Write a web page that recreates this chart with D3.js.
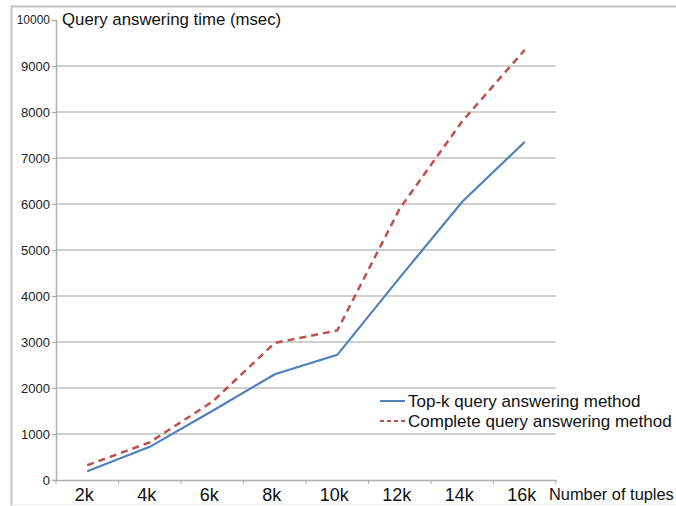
<!DOCTYPE html>
<html>
<head>
<meta charset="utf-8">
<script src="https://cdn.jsdelivr.net/npm/d3@7"></script>
<style>
  body { margin: 0; background: #fff; }
  svg { font-family: "Liberation Sans", Arial, sans-serif; }
</style>
</head>
<body>
<svg id="chart" width="676" height="506"></svg>
<script>
// data
let categories = ["2k", "4k", "6k", "8k", "10k", "12k", "14k", "16k"];
let topK = [190, 720, 1500, 2300, 2720, 4400, 6050, 7350];
let complete = [320, 820, 1700, 2980, 3250, 5900, 7800, 9350];
let yTicks = [0, 1000, 2000, 3000, 4000, 5000, 6000, 7000, 8000, 9000, 10000];
let seriesNames = ["Top-k query answering method", "Complete query answering method"];

let svg = d3.select("#chart");

// outer frame
svg.append("path")
  .attr("d", "M11.5,506 L11.5,6.5 L676,6.5")
  .attr("fill", "none")
  .attr("stroke", "#c4c4c4")
  .attr("stroke-width", 2);
svg.append("line")
  .attr("x1", 11).attr("x2", 676).attr("y1", 504.5).attr("y2", 504.5)
  .attr("stroke", "#ececec");

let plotLeft = 56, plotRight = 556, plotTop = 20, plotBottom = 480;

let x = d3.scaleBand()
  .domain(categories)
  .range([plotLeft, plotRight]);
let y = d3.scaleLinear()
  .domain([0, 10000])
  .range([plotBottom, plotTop]);

// gridlines
svg.append("g")
  .selectAll("line")
  .data(yTicks.filter(d => d > 0 && d < 10000))
  .enter()
  .append("line")
  .attr("x1", plotLeft).attr("x2", plotRight)
  .attr("y1", d => y(d)).attr("y2", d => y(d))
  .attr("stroke", "#c0c0c0")
  .attr("stroke-width", 1.5);

// y axis
let yAxis = svg.append("g")
  .attr("transform", `translate(${plotLeft},0)`)
  .call(d3.axisLeft(y).tickValues(yTicks).tickSize(4).tickFormat(d3.format("d")));
yAxis.select(".domain").attr("stroke", "#b0b0b0").attr("stroke-width", 1.5);
yAxis.selectAll(".tick line").attr("stroke", "#b0b0b0");
yAxis.selectAll(".tick text")
  .attr("font-size", 13)
  .attr("fill", "#222")
  .attr("x", -6);
yAxis.selectAll(".tick text").filter(d => d === 10000).attr("font-size", 12);

// x axis
let xAxis = svg.append("g")
  .attr("transform", `translate(0,${plotBottom})`)
  .call(d3.axisBottom(x).tickSize(0));
xAxis.select(".domain").attr("stroke", "#b0b0b0").attr("stroke-width", 1.5);
xAxis.selectAll(".tick text")
  .attr("font-size", 18)
  .attr("fill", "#111")
  .attr("dy", "1em")
  .attr("dx", -3);
// band separators
svg.append("g")
  .selectAll("line")
  .data(categories.concat(["end"]))
  .enter()
  .append("line")
  .attr("x1", (d, i) => plotLeft + i * x.step())
  .attr("x2", (d, i) => plotLeft + i * x.step())
  .attr("y1", plotBottom).attr("y2", plotBottom + 4)
  .attr("stroke", "#b0b0b0");

// titles
svg.append("text")
  .attr("x", 62).attr("y", 25)
  .attr("font-size", 16.8)
  .attr("fill", "#111")
  .text("Query answering time (msec)");
svg.append("text")
  .attr("x", 549).attr("y", 500)
  .attr("font-size", 16.4)
  .attr("fill", "#111")
  .text("Number of tuples");

// lines
let line = d3.line()
  .x((d, i) => x(categories[i]) + x.bandwidth() / 2)
  .y(d => y(d));

svg.append("path")
  .attr("d", line(topK))
  .attr("fill", "none")
  .attr("stroke", "#4f81bd")
  .attr("stroke-width", 2.2);

svg.append("path")
  .attr("d", line(complete))
  .attr("fill", "none")
  .attr("stroke", "#c0504d")
  .attr("stroke-width", 2.5)
  .attr("stroke-dasharray", "7,5");

// legend
let legend = svg.append("g");
let styles = [
  { color: "#4f81bd", dash: null, width: 2 },
  { color: "#c0504d", dash: "4,3", width: 2 }
];
seriesNames.forEach((name, i) => {
  let ly = 401 + i * 20;
  legend.append("rect")
    .attr("x", 374).attr("y", ly - 11)
    .attr("width", 300).attr("height", 20)
    .attr("fill", "#fff");
  legend.append("line")
    .attr("x1", 380).attr("x2", 405)
    .attr("y1", ly).attr("y2", ly)
    .attr("stroke", styles[i].color)
    .attr("stroke-width", styles[i].width)
    .attr("stroke-dasharray", styles[i].dash);
  legend.append("text")
    .attr("x", 408).attr("y", ly + 6)
    .attr("font-size", 17)
    .attr("fill", "#111")
    .text(name);
});
</script>
</body>
</html>
